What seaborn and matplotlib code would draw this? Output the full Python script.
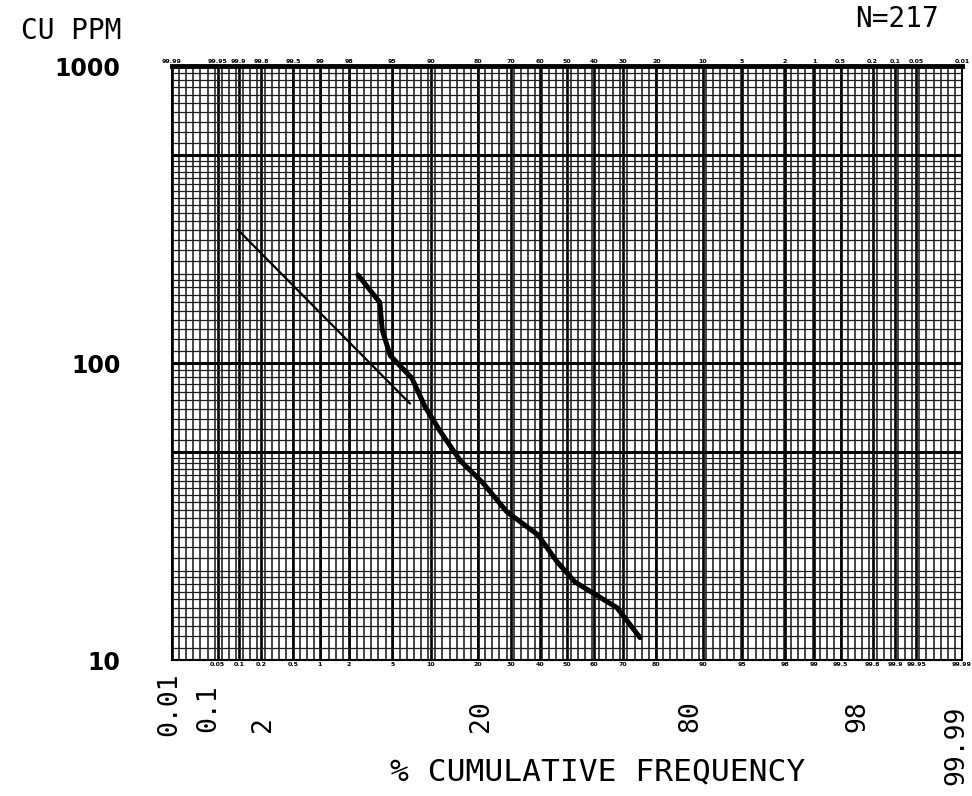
import numpy as np
import pandas as pd
import matplotlib
matplotlib.use("Agg")
import matplotlib.pyplot as plt
import seaborn as sns

# ---------------- data ----------------
curve_pct = [2.45, 3.9, 4.1, 4.8, 7.2, 9.1, 11.6, 15.7, 21.4, 28.6, 39.2, 46.3, 53.0, 68.1, 75.4]
curve_ppm = [198, 160, 129, 106, 89, 71, 59, 47, 39.5, 31.5, 26.4, 21.4, 18.3, 15.0, 11.9]
fit_pct = [0.097, 6.97]
fit_ppm = [281, 73]
x_tick_labels = ["0.01", "0.1", "2", "20", "80", "98", "99.99"]
y_ticks = [10, 100, 1000]
y_tick_labels = ["10", "100", "1000"]
paper_pcts = [0.01, 0.05, 0.1, 0.2, 0.5, 1, 2, 5, 10, 20, 30, 40, 50, 60, 70,
              80, 90, 95, 98, 99, 99.5, 99.8, 99.9, 99.95, 99.99]
n_label = "N=217"

# layout: where the typed labels sit along the bottom (axes fraction)
x_label_pos = [-0.003, 0.046, 0.115, 0.391, 0.656, 0.868, 0.993]
x_label_bottom = [-0.128, -0.121, -0.121, -0.121, -0.121, -0.121, -0.210]


# ---------------- probability scale helpers ----------------
def _ppf(q):
    q = np.clip(np.asarray(q, dtype=float), 1e-9, 1 - 1e-9)
    a = [-3.969683028665376e+01, 2.209460984245205e+02, -2.759285104469687e+02,
         1.383577518672690e+02, -3.066479806614716e+01, 2.506628277459239e+00]
    b = [-5.447609879822406e+01, 1.615858368580409e+02, -1.556989798598866e+02,
         6.680131188771972e+01, -1.328068155288572e+01]
    c = [-7.784894002430293e-03, -3.223964580411365e-01, -2.400758277161838e+00,
         -2.549732539343734e+00, 4.374664141464968e+00, 2.938163982698783e+00]
    d = [7.784695709041462e-03, 3.224671290700398e-01, 2.445134137142996e+00,
         3.754408661907416e+00]
    plow = 0.02425
    t = np.sqrt(-2 * np.log(np.minimum(q, 1 - q)))
    tail = (((((c[0]*t + c[1])*t + c[2])*t + c[3])*t + c[4])*t + c[5]) / \
           ((((d[0]*t + d[1])*t + d[2])*t + d[3])*t + 1)
    tail = np.where(q < 0.5, tail, -tail)
    r = q - 0.5
    s = r * r
    cen = (((((a[0]*s + a[1])*s + a[2])*s + a[3])*s + a[4])*s + a[5]) * r / \
          (((((b[0]*s + b[1])*s + b[2])*s + b[3])*s + b[4])*s + 1)
    return np.where((q < plow) | (q > 1 - plow), tail, cen)


_erf = np.frompyfunc(__import__("math").erf, 1, 1)


def fwd(pct):
    return _ppf(np.asarray(pct, dtype=float) / 100.0)


def inv(z):
    z = np.asarray(z, dtype=float)
    return 50.0 * (1.0 + _erf(z / np.sqrt(2.0)).astype(float))


# ---------------- figure ----------------
sns.set_style("white")
plt.rcParams["font.family"] = ["DejaVu Sans"]
plt.rcParams["text.color"] = "black"
plt.rcParams["ytick.color"] = "black"
plt.rcParams["ytick.labelcolor"] = "black"
mono = "DejaVu Sans Mono"

fig = plt.figure(figsize=(9.72, 7.96), dpi=100)
ax = fig.add_axes([172 / 972, 1 - 660 / 796, 790 / 972, 594 / 796])
ax.set_xscale("function", functions=(fwd, inv))
ax.set_yscale("log")
ax.set_xlim(0.01, 99.99)
ax.set_ylim(10, 1000)

# graph-paper grid (decoration)
zmax = float(fwd(99.99))
fine = inv(np.linspace(-zmax, zmax, 112))
ax.vlines(fine, 0, 1, transform=ax.get_xaxis_transform(), color="0.08", lw=1.1, zorder=1)
ax.vlines(paper_pcts, 0, 1, transform=ax.get_xaxis_transform(), color="0.0", lw=1.9, zorder=1)

mult = np.concatenate([np.arange(1.1, 2.0, 0.1), np.arange(2.0, 5.0, 0.2), np.arange(5.0, 10.0, 0.5)])
minor_h = np.concatenate([10 * mult, 100 * mult])
ax.hlines(minor_h, 0, 1, transform=ax.get_yaxis_transform(), color="0.12", lw=0.9, zorder=1)
ax.hlines([10, 50, 100, 500, 1000], 0, 1, transform=ax.get_yaxis_transform(), color="0.0", lw=2.2, zorder=1)

# tiny printed paper labels
for p in paper_pcts:
    ax.text(p, 1.004, f"{100 - p:g}", transform=ax.get_xaxis_transform(), fontsize=4.5,
            fontweight="bold", ha="center", va="bottom", color="black")
    if p > 0.02:
        ax.text(p, -0.004, f"{p:g}", transform=ax.get_xaxis_transform(), fontsize=4.5,
                fontweight="bold", ha="center", va="top", color="black")

# data
df_curve = pd.DataFrame({"pct": curve_pct, "ppm": curve_ppm})
df_fit = pd.DataFrame({"pct": fit_pct, "ppm": fit_ppm})
sns.lineplot(data=df_fit, x="pct", y="ppm", ax=ax, color="black", lw=1.6, sort=False, zorder=3)
sns.lineplot(data=df_curve, x="pct", y="ppm", ax=ax, color="black", lw=3.6, sort=False, zorder=4)

# axes cosmetics
for side in ["left", "right", "bottom"]:
    ax.spines[side].set_linewidth(1.5)
    ax.spines[side].set_color("black")
ax.spines["top"].set_linewidth(3.5)
ax.spines["top"].set_color("black")

ax.set_xticks([])
ax.set_xticks([], minor=True)
ax.set_yticks(y_ticks)
ax.set_yticks([], minor=True)
ax.set_yticklabels(y_tick_labels, fontsize=17, fontweight="bold", color="black")
ax.tick_params(axis="y", length=0, pad=37)
ax.set_xlabel("")
ax.set_ylabel("")

for lab, xp, yb in zip(x_tick_labels, x_label_pos, x_label_bottom):
    ax.text(xp, yb, lab, transform=ax.transAxes, rotation=90, ha="center", va="bottom",
            fontsize=19, family=mono, color="black")

fig.text(598 / 972, 1 - 772 / 796, "% CUMULATIVE FREQUENCY", ha="center", va="center",
         fontsize=22.5, family=mono, color="black")
fig.text(71 / 972, 1 - 31 / 796, "CU PPM", ha="center", va="center", fontsize=20,
         family=mono, color="black")
fig.text(897 / 972, 1 - 19 / 796, n_label, ha="center", va="center", fontsize=20,
         family=mono, color="black")

fig.savefig("out.png", dpi=100)
